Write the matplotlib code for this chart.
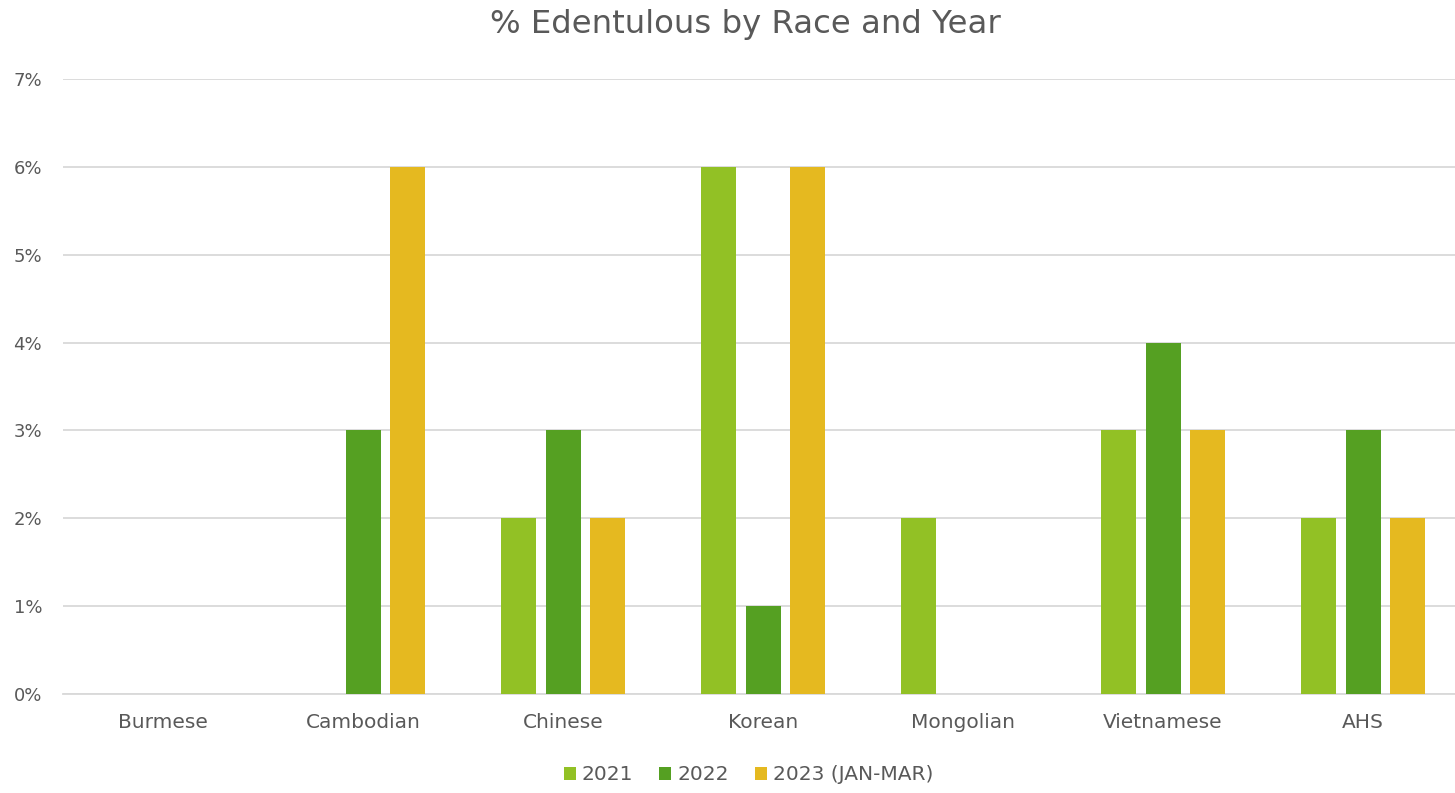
import matplotlib
matplotlib.use("Agg")
import matplotlib.pyplot as plt
import numpy as np
from matplotlib.ticker import FuncFormatter

categories = ["Burmese", "Cambodian", "Chinese", "Korean", "Mongolian", "Vietnamese", "AHS"]
series_names = ["2021", "2022", "2023 (JAN-MAR)"]
v2021 = [0, 0, 2, 6, 2, 3, 2]
v2022 = [0, 3, 3, 1, 0, 4, 3]
v2023 = [0, 6, 2, 6, 0, 3, 2]
colors = ["#92C125", "#55A022", "#E5B920"]
text_color = "#595959"

plt.rcParams['font.family'] = ['DejaVu Sans']
fig = plt.figure(figsize=(14.55, 7.93), dpi=100)
ax = fig.add_axes([63/1455, 1-694/793, 1400/1455, (694-79)/793])

x = np.arange(len(categories))
w = 0.175
off = 0.2225
for i, vals in enumerate([v2021, v2022, v2023]):
    ax.bar(x + (i-1)*off, vals, width=w, color=colors[i], label=series_names[i], zorder=3)

ax.set_xlim(-0.5, len(categories)-0.5)
ax.set_ylim(0, 7)
ax.set_yticks(range(0, 8))
ax.yaxis.set_major_formatter(FuncFormatter(lambda v, p: f"{int(v)}%"))
ax.set_xticks(x)
ax.set_xticklabels(categories)
ax.grid(axis='y', color="#D9D9D9", linewidth=1.3, zorder=0)
for s in ["top", "right", "left"]:
    ax.spines[s].set_visible(False)
ax.spines["bottom"].set_color("#D9D9D9")
ax.spines["bottom"].set_linewidth(1.3)
ax.tick_params(axis='both', length=0, colors=text_color)
ax.tick_params(axis='x', pad=14, labelsize=14.5)
ax.tick_params(axis='y', pad=15, labelsize=13)

fig.text(0.5125, 1-25/793, "% Edentulous by Race and Year", fontsize=23.3, color=text_color,
         ha='center', va='center')
leg = fig.legend(loc='center', bbox_to_anchor=(0.5145, 1-775/793), ncol=3, frameon=False,
                 fontsize=14.5, handlelength=0.6, handleheight=0.6, handletextpad=0.3, columnspacing=1.3)
for t in leg.get_texts():
    t.set_color(text_color)

fig.savefig("out.png", dpi=100)
